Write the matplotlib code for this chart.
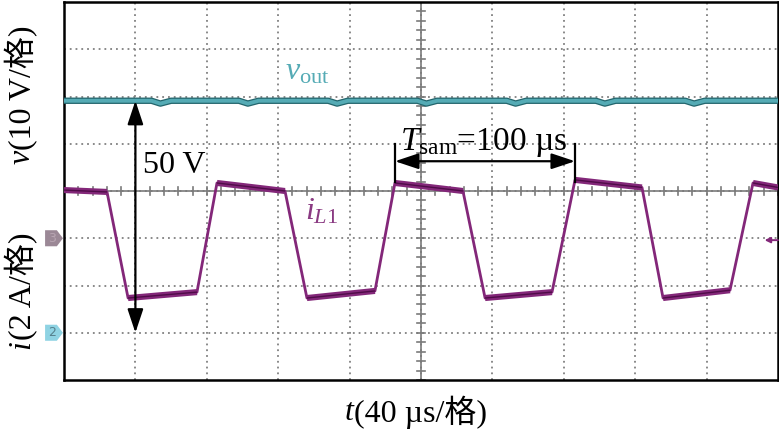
import numpy as np
import matplotlib.pyplot as plt
from matplotlib.patches import Polygon

plt.rcParams['font.family'] = ['Liberation Serif', 'Noto Sans CJK SC']
plt.rcParams['mathtext.fontset'] = 'custom'
plt.rcParams['mathtext.rm'] = 'Liberation Serif'
plt.rcParams['mathtext.it'] = 'Liberation Serif:italic'

# scope settings
t_div = 40   # us per division
i_div = 2    # A per division
v_div = 10   # V per division
i_gnd = 3    # ch3 ground marker (div)
v_gnd = 1    # ch2 ground marker (div)

# inductor current iL1, corner points
iL_t = [0, 24.1, 35.9, 74.5, 85.7, 123.8, 136.1, 174.2, 185.4, 223.5,
        235.9, 273.4, 286.3, 323.8, 335.6, 373.1, 386.0, 400]
iL_a = [2.04, 1.96, -2.53, -2.28, 2.34, 2.0, -2.53, -2.23, 2.34, 2.0,
        -2.53, -2.28, 2.47, 2.15, -2.53, -2.2, 2.34, 2.15]

# output voltage, small dips
vout_t = [0, 49, 54, 60, 98, 103, 109, 148, 153, 159, 198, 203, 209,
          248, 253, 259, 298, 303, 309, 348, 353, 359, 400]
vout_v = [49.1, 49.1, 48.5, 49.1, 49.1, 48.5, 49.1, 49.1, 48.5, 49.1, 49.1, 48.5, 49.1,
          49.1, 48.5, 49.1, 49.1, 48.5, 49.1, 49.1, 48.5, 49.1, 49.1]

purple = '#832779'
purple_dk = '#4f0c48'
teal = '#55abb5'
teal_dk = '#23656c'
grey = '#808080'

fig = plt.figure(figsize=(7.79, 4.33), dpi=100)
ax = fig.add_axes([64/779, 53/433, 714/779, 378/433])
ax.set_xlim(0, 10*t_div)
ax.set_ylim(0, 8)

# graticule
for k in range(1, 10):
    ax.axvline(k*t_div, color=grey, lw=1.3, ls=(0, (1, 2.2)), zorder=1)
for k in range(1, 8):
    ax.axhline(k, color=grey, lw=1.3, ls=(0, (1, 2.2)), zorder=1)
ax.axhline(4, color='#7a7a7a', lw=1.2, zorder=1)
ax.axvline(5*t_div, color='#7a7a7a', lw=1.2, zorder=1)
for x in np.arange(0, 10*t_div + 0.1, t_div/5):
    ax.plot([x, x], [3.92, 4.08], color='#7a7a7a', lw=1.2, zorder=1)
for y in np.arange(0, 8.01, 0.2):
    ax.plot([5*t_div - 2.2, 5*t_div + 2.2], [y, y], color='#7a7a7a', lw=1.2, zorder=1)

# vout trace
vy = v_gnd + np.array(vout_v)/v_div
ax.plot(vout_t, vy, color=teal_dk, lw=4.6, zorder=3)
ax.plot(vout_t, vy, color=teal, lw=2.8, zorder=3)

# iL1 trace
iy = i_gnd + np.array(iL_a)/i_div
ax.plot(iL_t, iy, color=purple, lw=2.0, zorder=3)
for k in range(0, len(iL_t) - 1, 2):
    ax.plot(iL_t[k:k+2], iy[k:k+2], color=purple, lw=4.4, solid_capstyle='butt', zorder=3)
    ax.plot(iL_t[k:k+2], iy[k:k+2], color=purple_dk, lw=1.0, solid_capstyle='butt', zorder=3)

arrow_kw = dict(arrowstyle='<|-|>,head_length=0.9,head_width=0.3',
                color='k', lw=1.6, mutation_scale=16, shrinkA=0, shrinkB=0)

# 50 V arrow
ax.annotate('', xy=(t_div, vy[0]), xytext=(t_div, v_gnd), arrowprops=arrow_kw, zorder=5)
ax.text(t_div + 4, 4.55, '50 V', fontsize=23, va='center', ha='left', zorder=5)

# Tsam arrow
t0, t1 = iL_t[8], iL_t[12]
ax.plot([t0, t0], [4.2, 5.0], color='k', lw=1.6, zorder=5)
ax.plot([t1, t1], [4.2, 5.0], color='k', lw=1.6, zorder=5)
ax.annotate('', xy=(t1, 4.63), xytext=(t0, 4.63), arrowprops=arrow_kw, zorder=5)
ax.text(t0 + 3, 4.87, r'$T_{\rm sam}$=100 µs', fontsize=24, va='baseline', ha='left', zorder=5)

# trace labels
ax.text(124, 6.35, r'$v_{\rm out}$', fontsize=23, color=teal, va='baseline', zorder=5)
ax.text(135, 3.39, r'$i_{L1}$', fontsize=23, color='#8a3a82', va='baseline', zorder=5)

# channel ground tags
for g, c, lab, tc in [(i_gnd, '#9b8896', '3', '#b8a5b2'), (v_gnd, '#8fd3e3', '2', '#55808c')]:
    tag = Polygon([(-10.6, g - 0.17), (-4, g - 0.17), (-0.6, g), (-4, g + 0.17), (-10.6, g + 0.17)],
                  closed=True, facecolor=c, edgecolor='none', clip_on=False, zorder=6)
    ax.add_patch(tag)
    ax.text(-6.5, g, lab, fontsize=9, color=tc, ha='center', va='center',
            family='DejaVu Sans', clip_on=False, zorder=7)

# trigger marker on right edge
ax.annotate('', xy=(392.5, i_gnd - 0.04), xytext=(400, i_gnd - 0.04),
            arrowprops=dict(arrowstyle='-|>', color=purple, lw=1.4, mutation_scale=8,
                            shrinkA=0, shrinkB=0), zorder=6)

for s in ax.spines.values():
    s.set_linewidth(1.8)
    s.set_color('k')
ax.set_xticks([])
ax.set_yticks([])

# axis labels: italic symbol + plain rest (plain text keeps CJK fallback)
rend = fig.canvas.get_renderer()
W, H = 779, 433


def vlabel(sym, rest, xc, yc):
    a = fig.text(xc/W, 0, sym, rotation=90, fontsize=23, style='italic', ha='center', va='bottom')
    b = fig.text(xc/W, 0, rest, rotation=90, fontsize=23, ha='center', va='bottom')
    ha_ = a.get_window_extent(rend).height
    hb_ = b.get_window_extent(rend).height
    y0 = (H - yc) - (ha_ + hb_)/2
    a.set_y(y0/H)
    b.set_y((y0 + ha_)/H)


def hlabel(sym, rest, xc, yc):
    a = fig.text(0, (H - yc)/H, sym, fontsize=23, style='italic', ha='left', va='center')
    b = fig.text(0, (H - yc)/H, rest, fontsize=23, ha='left', va='center')
    wa = a.get_window_extent(rend).width
    wb = b.get_window_extent(rend).width
    x0 = xc - (wa + wb)/2
    a.set_x(x0/W)
    b.set_x((x0 + wa)/W)


vlabel('v', '(10 V/格)', 22, 95)
vlabel('i', '(2 A/格)', 22, 291)
hlabel('t', '(40 µs/格)', 416, 412)

fig.savefig('out.png', dpi=100)
